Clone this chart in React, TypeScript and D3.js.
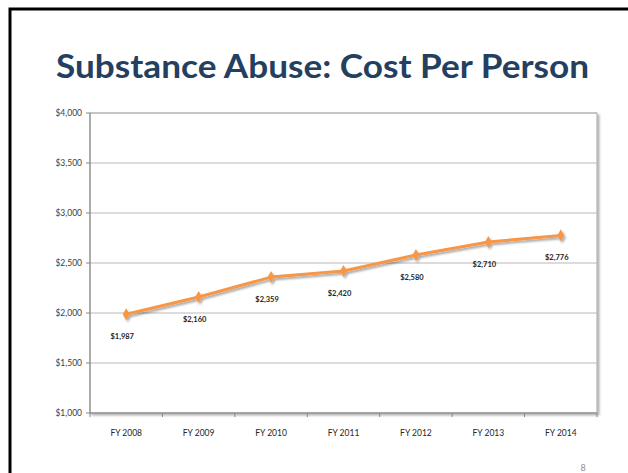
import * as d3 from 'd3'

const categories = ['FY 2008', 'FY 2009', 'FY 2010', 'FY 2011', 'FY 2012', 'FY 2013', 'FY 2014']
const costs = [1987, 2160, 2359, 2420, 2580, 2710, 2776]
const yTicks = [1000, 1500, 2000, 2500, 3000, 3500, 4000]

const W = 628
const H = 473
const plot = { left: 90, right: 597, top: 113, bottom: 413 }
const FONT = 'Lato, "Open Sans", sans-serif'

export default function App() {
  const x = d3.scaleBand<string>().domain(categories).range([plot.left, plot.right])
  const y = d3.scaleLinear().domain([1000, 4000]).range([plot.bottom, plot.top])
  const cx = (c: string) => (x(c) ?? 0) + x.bandwidth() / 2
  const fmt = (v: number) => '$' + d3.format(',')(v)

  const line = d3.line<number>()
    .x((_, i) => cx(categories[i]))
    .y(d => y(d))

  const diamond = d3.symbol(d3.symbolDiamond, 42)()

  return (
    <svg width={W} height={H} style={{ position: 'absolute', left: 0, top: 0, background: '#fff' }}>
      <defs>
        <filter id="sh" x="-20%" y="-20%" width="140%" height="160%">
          <feDropShadow dx="1.5" dy="2" stdDeviation="1.2" floodColor="#000" floodOpacity="0.35" />
        </filter>
        <filter id="box" x="-5%" y="-5%" width="110%" height="110%">
          <feDropShadow dx="2" dy="2" stdDeviation="1.2" floodColor="#000" floodOpacity="0.3" />
        </filter>
      </defs>

      {/* slide frame */}
      <rect x={10} y={9} width={W + 20} height={H + 20} fill="none" stroke="#000" strokeWidth={3} />

      <text x={322.5} y={78} textAnchor="middle" fontFamily={FONT} fontWeight={700} fontSize={33}
        textLength={533} lengthAdjust="spacingAndGlyphs" fill="#243F60">
        Substance Abuse: Cost Per Person
      </text>

      {/* plot area */}
      <rect x={plot.left} y={plot.top} width={plot.right - plot.left} height={plot.bottom - plot.top}
        fill="#fff" stroke="#a6a6a6" strokeWidth={1} filter="url(#box)" />

      {yTicks.map(t => (
        <g key={t}>
          <line x1={plot.left} x2={plot.right} y1={y(t)} y2={y(t)} stroke="#b8b8b8" strokeWidth={1} />
          <line x1={plot.left - 4} x2={plot.left} y1={y(t)} y2={y(t)} stroke="#868686" />
          <text x={plot.left - 8} y={y(t) + 3} textAnchor="end" fontFamily={FONT} fontSize={8.5} fill="#404040">
            {fmt(t)}
          </text>
        </g>
      ))}

      <line x1={plot.left} x2={plot.left} y1={plot.top} y2={plot.bottom} stroke="#868686" />
      <line x1={plot.left} x2={plot.right} y1={plot.bottom} y2={plot.bottom} stroke="#868686" />
      {categories.map(c => (
        <line key={c} x1={x(c)} x2={x(c)} y1={plot.bottom} y2={plot.bottom + 4} stroke="#868686" />
      ))}
      <line x1={plot.right} x2={plot.right} y1={plot.bottom} y2={plot.bottom + 4} stroke="#868686" />

      {categories.map(c => (
        <text key={c} x={cx(c)} y={plot.bottom + 23} textAnchor="middle" fontFamily={FONT} fontSize={8.5} fill="#262626">
          {c}
        </text>
      ))}

      <g filter="url(#sh)">
        <path d={line(costs) ?? ''} fill="none" stroke="#F79646" strokeWidth={3} strokeLinejoin="round" />
        {costs.map((v, i) => (
          <path key={i} d={diamond ?? ''} transform={`translate(${cx(categories[i])},${y(v)})`} fill="#F79646" />
        ))}
      </g>

      {costs.map((v, i) => (
        <text key={i} x={cx(categories[i]) - 4} y={y(v) + 25} textAnchor="middle" fontFamily={FONT}
          fontWeight={700} fontSize={7.5} fill="#262626">
          {fmt(v)}
        </text>
      ))}

      <text x={583} y={471} textAnchor="middle" fontFamily={FONT} fontSize={9} fill="#8c8c8c">8</text>
    </svg>
  )
}
